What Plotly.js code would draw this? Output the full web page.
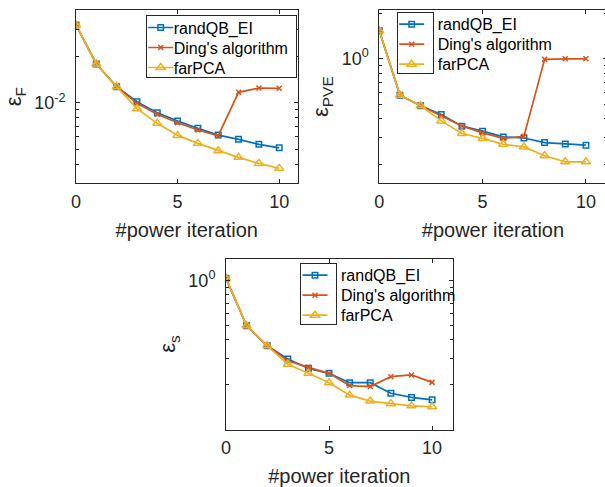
<!DOCTYPE html>
<html><head><meta charset="utf-8">
<script src="https://cdn.plot.ly/plotly-3.0.1.min.js"></script>
<style>html,body{margin:0;padding:0;overflow:hidden;background:#fff}</style>
</head><body><div id="chart" style="width:610px;height:487px"></div>
<script>
// ---- data ----
const iterations = [0,1,2,3,4,5,6,7,8,9,10];
const seriesNames = ['randQB_EI', "Ding's algorithm", 'farPCA'];
const xTickVals = [0, 5, 10];
const xTitle = '#power iteration';

const errF_randQB = [0.0320,0.01785,0.01271,0.01015,0.00861,0.00761,0.00682,0.00617,0.00579,0.00537,0.00510];
const errF_ding   = [0.0320,0.01785,0.01271,0.00991,0.00841,0.00742,0.00665,0.00611,0.01169,0.01246,0.01241];
const errF_farPCA = [0.0320,0.01785,0.01271,0.00915,0.00735,0.00614,0.00545,0.00488,0.00442,0.00404,0.00375];

const errPVE_randQB = [1.531,0.574,0.488,0.428,0.358,0.332,0.304,0.299,0.279,0.273,0.268];
const errPVE_ding   = [1.531,0.574,0.488,0.417,0.359,0.323,0.297,0.307,0.990,0.999,0.999];
const errPVE_farPCA = [1.531,0.574,0.488,0.388,0.320,0.297,0.272,0.261,0.228,0.208,0.208];

const errS_randQB = [1.031,0.496,0.364,0.297,0.257,0.238,0.206,0.206,0.175,0.164,0.158];
const errS_ding   = [1.031,0.496,0.364,0.289,0.261,0.238,0.197,0.194,0.226,0.232,0.207];
const errS_farPCA = [1.031,0.496,0.364,0.274,0.238,0.206,0.170,0.155,0.149,0.144,0.142];

const yTickValsF = [0.01], yTickTextF = ['10<sup>-2</sup>'];
const yTickValsPVE = [1], yTickTextPVE = ['10<sup>0</sup>'];
const yTickValsS = [1], yTickTextS = ['10<sup>0</sup>'];
const yTitles = ['ε<sub>F</sub>', 'ε<sub>PVE</sub>', 'ε<sub>s</sub>'];

// ---- styling ----
const colors = ['#0072BD', '#D95319', '#EDB120'];
const symbols = ['square-open', 'x-thin-open', 'triangle-up-open'];
const msizes = [5.5, 5, 8];
const axColor = '#262626';
const FONT = 'Liberation Sans, Arial, Helvetica, sans-serif';

function minorLogTicks(lo, hi) {
  const out = [];
  for (let e = Math.floor(Math.log10(lo)); e <= Math.ceil(Math.log10(hi)); e++) {
    for (let m = 2; m <= 9; m++) {
      const v = m * Math.pow(10, e);
      if (v >= lo && v <= hi) out.push(v);
    }
  }
  return out;
}

function mkTraces(ys, xa, ya, legendName) {
  return ys.map((y, i) => ({
    x: iterations, y: y, xaxis: xa, yaxis: ya, name: seriesNames[i],
    type: 'scatter', mode: 'lines+markers', legend: legendName,
    line: {color: colors[i], width: 1.7},
    marker: {symbol: symbols[i], size: msizes[i], color: colors[i], line: {color: colors[i], width: 1.5}}
  }));
}

const data = [
  ...mkTraces([errF_randQB, errF_ding, errF_farPCA], 'x', 'y', 'legend'),
  ...mkTraces([errPVE_randQB, errPVE_ding, errPVE_farPCA], 'x2', 'y2', 'legend2'),
  ...mkTraces([errS_randQB, errS_ding, errS_farPCA], 'x3', 'y3', 'legend3')
];

const W = 610, H = 487;
function xax(d0, d1, r1, anchor) {
  return {domain: [d0 / W, d1 / W], range: [0, r1], anchor: anchor,
    tickmode: 'array', tickvals: xTickVals, ticks: 'inside', ticklen: 4, tickwidth: 1, tickcolor: axColor,
    showline: true, linecolor: axColor, linewidth: 1, mirror: 'ticks', showgrid: false, zeroline: false,
    tickfont: {size: 18, color: axColor, family: FONT}, ticklabelstandoff: 2,
    title: {text: xTitle, font: {size: 20, color: axColor, family: FONT}, standoff: 12}};
}
function yax(top, bot, lo, hi, tv, tt, anchor, title) {
  return {domain: [1 - bot / H, 1 - top / H], type: 'log', range: [Math.log10(lo), Math.log10(hi)], anchor: anchor,
    tickmode: 'array', tickvals: tv, ticktext: tt, ticks: 'inside', ticklen: 4, tickwidth: 1, tickcolor: axColor,
    minor: {tickmode: 'array', tickvals: minorLogTicks(lo, hi), ticks: 'inside', ticklen: 2.5, tickwidth: 1, tickcolor: axColor, showgrid: false},
    showline: true, linecolor: axColor, linewidth: 1, mirror: 'ticks', showgrid: false, zeroline: false,
    tickfont: {size: 18, color: axColor, family: FONT}, ticklabelstandoff: 6, ticklabelshift: -2.5,
    title: {text: title, font: {size: 22, color: axColor, family: FONT}, standoff: 6}};
}
function leg(x, y, xanchor) {
  return {x: x, y: y, xanchor: xanchor, yanchor: 'top', xref: 'paper', yref: 'paper',
    bgcolor: '#ffffff', bordercolor: axColor, borderwidth: 1, tracegroupgap: 0,
    font: {size: 16, color: '#000', family: FONT}, itemwidth: 30};
}

const layout = {
  width: W, height: H, margin: {l: 0, r: 0, t: 0, b: 0},
  paper_bgcolor: '#fff', plot_bgcolor: '#fff', font: {family: FONT},
  xaxis: xax(76, 297.5, 10.9, 'y'),
  yaxis: yax(10, 183.3, 0.003, 0.04, yTickValsF, yTickTextF, 'x', yTitles[0]),
  xaxis2: xax(379.3, 606.6, 11, 'y2'),
  yaxis2: yax(10, 183.3, 0.15, 2.1, yTickValsPVE, yTickTextPVE, 'x2', yTitles[1]),
  xaxis3: xax(226, 452.7, 11, 'y3'),
  yaxis3: yax(258.5, 429.5, 0.1, 1.4, yTickValsS, yTickTextS, 'x3', yTitles[2]),
  legend: leg(296 / W, 1 - 15 / H, 'right'),
  legend2: leg(396.7 / W, 1 - 11.7 / H, 'left'),
  legend3: leg(446 / W, 1 - 262.7 / H, 'right')
};

// compact MATLAB-like legend boxes: [legend id, box left px, box top px]
const legendBoxes = [['legend', 145.7, 15], ['legend2', 396.7, 11.7], ['legend3', 300, 262.7]];
function compactLegends(gd) {
  legendBoxes.forEach(([id, left, top]) => {
    const lg = gd.querySelector('g.' + id);
    if (!lg) return;
    const rowH = 20, firstRow = 12.5, textX = 27;
    let maxW = 0;
    const traces = lg.querySelectorAll('g.traces');
    traces.forEach((tr, i) => {
      tr.setAttribute('transform', 'translate(1,' + (firstRow + i * rowH) + ')');
      const txt = tr.querySelector('text.legendtext');
      if (txt) {
        txt.setAttribute('x', textX);
        txt.querySelectorAll('tspan[x]').forEach(t => t.setAttribute('x', textX));
        maxW = Math.max(maxW, txt.getComputedTextLength());
      }
      tr.querySelectorAll('.legendlines path').forEach(p => p.setAttribute('d', 'M1.5,0h25'));
      tr.querySelectorAll('.legendpoints path').forEach(p => p.setAttribute('transform', 'translate(14,0)'));
    });
    const w = textX + maxW + 9, h = firstRow + (traces.length - 1) * rowH + 9;
    const bg = lg.querySelector('rect.bg');
    if (bg) { bg.setAttribute('width', w); bg.setAttribute('height', h); bg.setAttribute('x', 0.5); bg.setAttribute('y', 0.5); }
    lg.querySelectorAll('clipPath rect, defs rect').forEach(r => { r.setAttribute('width', w); r.setAttribute('height', h); });
    lg.setAttribute('transform', 'translate(' + left + ',' + top + ')');
  });
  // drop empty placeholder text nodes (nothing visible)
  gd.querySelectorAll('text').forEach(t => { if (!t.textContent.trim()) t.remove(); });
}

Plotly.newPlot('chart', data, layout, {staticPlot: true, displayModeBar: false}).then(compactLegends);
</script></body></html>
